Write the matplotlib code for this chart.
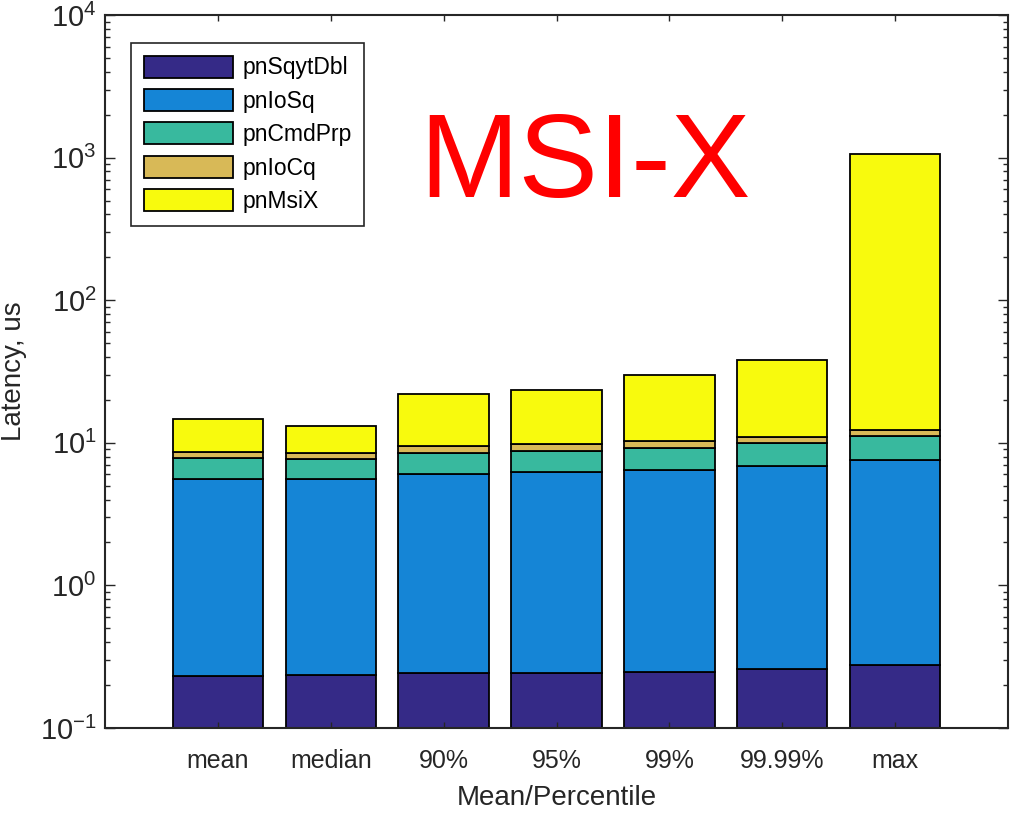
import numpy as np
import matplotlib
matplotlib.use("Agg")
import matplotlib.pyplot as plt
from matplotlib.ticker import LogLocator, NullFormatter

plt.rcParams['font.family'] = ['Liberation Sans', 'DejaVu Sans']
plt.rcParams['mathtext.fontset'] = 'custom'
plt.rcParams['mathtext.rm'] = 'Liberation Sans'
plt.rcParams['mathtext.it'] = 'Liberation Sans'

# latency components per statistic, stacked bottom to top (us)
categories = ['mean', 'median', '90%', '95%', '99%', '99.99%', 'max']
pnSqytDbl = [0.233, 0.234, 0.242, 0.244, 0.247, 0.259, 0.275]
pnIoSq = [5.37, 5.37, 5.83, 5.97, 6.23, 6.62, 7.30]
pnCmdPrp = [2.22, 2.13, 2.37, 2.55, 2.77, 3.04, 3.53]
pnIoCq = [0.76, 0.80, 1.06, 1.10, 1.10, 1.12, 1.14]
pnMsiX = [6.1, 4.6, 12.6, 13.5, 19.4, 27.1, 1048.0]

series = [
    ('pnSqytDbl', pnSqytDbl, '#352a87'),
    ('pnIoSq', pnIoSq, '#1585d6'),
    ('pnCmdPrp', pnCmdPrp, '#38b99e'),
    ('pnIoCq', pnIoCq, '#d8b957'),
    ('pnMsiX', pnMsiX, '#f8fa0d'),
]

fig = plt.figure(figsize=(10.11, 8.18), dpi=100)
ax = fig.add_axes([105 / 1011, 90 / 818, 903 / 1011, 713 / 818])

x = np.arange(1, len(categories) + 1)
bottom = np.zeros(len(categories))
for name, vals, color in series:
    vals = np.array(vals)
    ax.bar(x, vals, width=0.8, bottom=bottom, color=color, edgecolor='black',
           linewidth=1.3, label=name)
    bottom = bottom + vals

ax.set_yscale('log')
ax.set_ylim(0.1, 1e4)
ax.set_xlim(0, 8)
ax.set_xticks(x)
ax.set_xticklabels(categories)

ax.yaxis.set_minor_locator(LogLocator(base=10, subs=np.arange(2, 10), numticks=20))
ax.yaxis.set_minor_formatter(NullFormatter())
ax.set_yticks([0.1, 1, 10, 100, 1000, 10000])
ax.set_yticklabels([r'$10^{%d}$' % e for e in range(-1, 5)])

axis_color = '#262626'
for s in ax.spines.values():
    s.set_linewidth(1.5)
    s.set_color(axis_color)
ax.tick_params(axis='both', which='both', direction='in', top=True, right=True,
               colors=axis_color, width=1.0)
ax.tick_params(axis='y', which='major', length=7, labelsize=21, pad=6)
ax.tick_params(axis='y', which='minor', length=3.6)
ax.tick_params(axis='x', which='major', length=4, labelsize=18, pad=15)
ax.tick_params(labelcolor='#262626')

ax.set_xlabel('Mean/Percentile', fontsize=20, color='#262626', labelpad=9)
ax.set_ylabel('Latency, us', fontsize=20, color='#262626', labelpad=9)

ax.text(0.5316, 0.7447, 'MSI-X', transform=ax.transAxes, ha='center',
        va='baseline', fontsize=86, color='#ff0000')

leg = ax.legend(loc='upper left', bbox_to_anchor=(131 / 1011, 1 - 43 / 818),
                bbox_transform=fig.transFigure, borderaxespad=0, fontsize=16.5,
                handlelength=3.9, handleheight=1.1, handletextpad=0.4,
                labelspacing=0.42, borderpad=0.55, fancybox=False, framealpha=1)
leg.get_frame().set_edgecolor('#262626')
leg.get_frame().set_linewidth(1.2)

fig.savefig('out.png', dpi=100)
